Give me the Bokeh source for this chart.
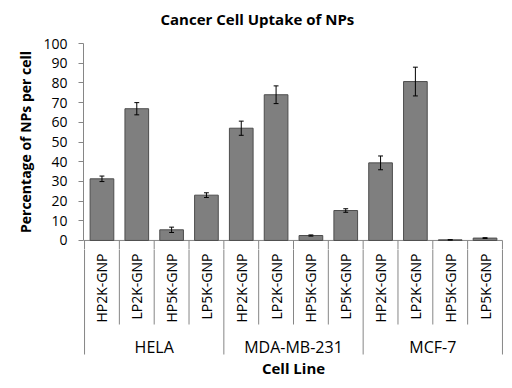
from bokeh.plotting import figure
from bokeh.layouts import column
from bokeh.models import Range1d, FixedTicker, ColumnDataSource
from bokeh.core.properties import value
from bokeh.embed import file_html
from bokeh.resources import INLINE
import numpy as np

cell_lines = ["HELA", "MDA-MB-231", "MCF-7"]
nps = ["HP2K-GNP", "LP2K-GNP", "HP5K-GNP", "LP5K-GNP"]
uptake = [31.3, 66.9, 5.4, 23.0,
          57.0, 74.0, 2.5, 15.2,
          39.4, 80.7, 0.3, 1.2]
err = [1.4, 3.1, 1.35, 1.2,
       3.6, 4.5, 0.3, 0.9,
       3.5, 7.3, 0.1, 0.2]
y_ticks = list(range(0, 101, 10))

FONT = "Open Sans"
GRAY = "#868686"

n = len(cell_lines) * len(nps)
xs = np.arange(n) + 0.5
up = np.array(uptake)
er = np.array(err)
src = ColumnDataSource(dict(x=xs, top=up, lo=up - er, hi=up + er,
                            cl=xs - 0.07, cr=xs + 0.07))

x_range = Range1d(-0.03, 12.03)
PAD = 4.6  # value units of padding above and below the 0..100 axis

p = figure(width=512, height=249, output_backend="svg", toolbar_location=None,
           x_range=x_range, y_range=Range1d(-PAD, y_ticks[-1] + PAD),
           min_border_left=83, min_border_right=9, min_border_bottom=0, min_border_top=34)
p.title.text = "Cancer Cell Uptake of NPs"
p.title.text_font = FONT
p.title.text_font_size = "15px"
p.title.text_font_style = "bold"
p.title.text_color = "#000000"
p.title.align = "left"
p.title.offset = 77
p.title.standoff = 12
p.outline_line_color = None
p.grid.visible = False
p.xaxis.visible = False

ya = p.yaxis[0]
ya.ticker = FixedTicker(ticks=y_ticks, minor_ticks=[])
ya.bounds = (y_ticks[0], y_ticks[-1])
ya.axis_line_color = GRAY
ya.major_tick_line_color = GRAY
ya.major_tick_out = 5
ya.major_tick_in = 0
ya.minor_tick_line_color = None
ya.major_label_text_font = FONT
ya.major_label_text_font_size = "14px"
ya.major_label_text_color = "#000000"
ya.major_label_standoff = 11
ya.axis_label = "Percentage of NPs per cell"
ya.axis_label_text_font = FONT
ya.axis_label_text_font_size = "14px"
ya.axis_label_text_font_style = "bold"
ya.axis_label_text_color = "#000000"
ya.axis_label_standoff = 5

edges = np.arange(n + 1)
group_edges = [e for e in edges if e % len(nps) == 0]
sub_edges = [e for e in edges if e % len(nps) != 0]

# category axis line and start of dividers (top figure)
p.segment(x0=[-0.03], y0=[0], x1=[12], y1=[0], line_color=GRAY, line_width=1)
p.segment(x0=list(edges), y0=[0] * len(edges), x1=list(edges), y1=[-PAD] * len(edges),
          line_color=GRAY, line_width=1)

p.vbar(x="x", top="top", bottom=0, width=0.68, source=src,
       fill_color="#7f7f7f", line_color="#4d4d4d", line_width=1)
p.segment(x0="x", y0="lo", x1="x", y1="hi", source=src, line_color="#000000", line_width=1)
p.segment(x0="cl", y0="lo", x1="cr", y1="lo", source=src, line_color="#000000", line_width=1)
p.segment(x0="cl", y0="hi", x1="cr", y1="hi", source=src, line_color="#000000", line_width=1)

# category axis area (y in pixels below the value axis)
q = figure(width=512, height=139, output_backend="svg", toolbar_location=None,
           x_range=x_range, y_range=Range1d(-148, -9),
           min_border_left=83, min_border_right=9, min_border_bottom=0, min_border_top=0,
           x_axis_location=None, y_axis_location=None)
q.outline_line_color = None
q.grid.visible = False

q.segment(x0=sub_edges, y0=[-8] * len(sub_edges), x1=sub_edges, y1=[-84] * len(sub_edges),
          line_color=GRAY, line_width=1)
q.segment(x0=group_edges, y0=[-8] * len(group_edges), x1=group_edges, y1=[-114] * len(group_edges),
          line_color=GRAY, line_width=1)

sub_labels = [s for _ in cell_lines for s in nps]
q.text(x=xs, y=[-13] * n, text=sub_labels, angle=np.pi / 2,
       text_align="right", text_baseline="middle",
       text_font=value(FONT), text_font_size="14px", text_color="#000000")
gx = [len(nps) * i + len(nps) / 2 for i in range(len(cell_lines))]
q.text(x=gx, y=[-106] * len(gx), text=cell_lines,
       text_align="center", text_baseline="middle",
       text_font=value(FONT), text_font_size="16px", text_color="#000000")
q.text(x=[n / 2], y=[-127], text=["Cell Line"],
       text_align="center", text_baseline="middle",
       text_font=value(FONT), text_font_size="15px", text_font_style="bold",
       text_color="#000000")

layout = column(p, q, spacing=0)
open("out.html", "w").write(file_html(layout, INLINE))
